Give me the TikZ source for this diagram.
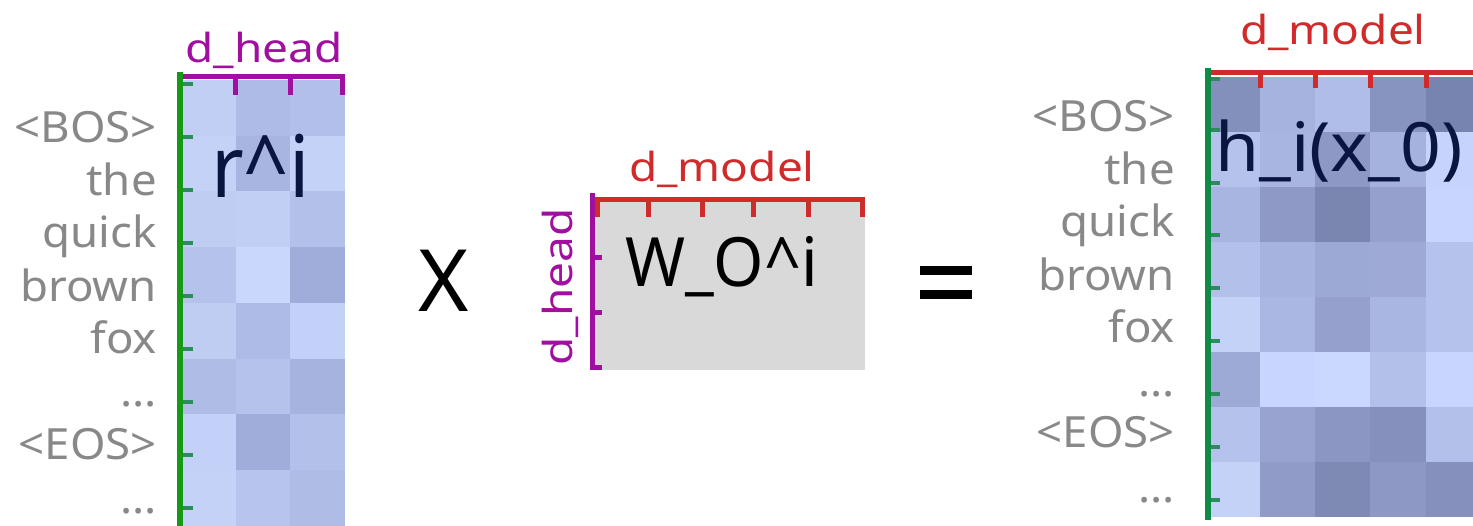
\documentclass[tikz,border=0pt]{standalone}
\usepackage{fontspec}
\setmainfont{Noto Sans}
\newfontfamily\dimfont[FakeStretch=1.15]{Noto Sans}
\newfontfamily\rowfont[FakeStretch=1.06]{Noto Sans}
\newfontfamily\hfont[FakeStretch=1.05]{Noto Sans}
\newfontfamily\wfont[FakeStretch=0.95]{Noto Sans}
\newfontfamily\rfont[FakeStretch=0.92]{Noto Sans}
\definecolor{mag}{HTML}{A00FA0}
\definecolor{redA}{HTML}{D02A2A}
\definecolor{grnA}{HTML}{169A16}
\definecolor{grnB}{HTML}{0E8C46}
\definecolor{tickG}{HTML}{2E8B5E}
\definecolor{lbl}{HTML}{888888}
\definecolor{navy}{HTML}{0B1640}
\definecolor{wgray}{HTML}{D9D9D9}
\begin{document}
\begin{tikzpicture}[x=1pt,y=-1pt,
  rowlab/.style={anchor=base east,inner sep=0pt,text=lbl,font=\rowfont\fontsize{43}{43}\selectfont},
  dimlab/.style={anchor=base,inner sep=0pt,font=\dimfont\fontsize{40}{40}\selectfont},
  bigtxt/.style={anchor=base west,inner sep=0pt,text=navy},
  axisline/.style={line width=5pt},
  gtick/.style={draw=tickG,line width=4pt},
]
\useasboundingbox (0,0) rectangle (1473,526);

% ---------- left matrix r^i ----------
\foreach \r/\a/\b/\c in {0/C2CFF5/AEBBE6/B2BFEA,1/C5D2F8/A8B5E0/C5D2F8,2/C0CDF3/C2CFF5/B3C0EA,3/B5C2EC/CAD7FD/A0ADDB,4/C0CDF3/AEBBE6/C3D0F7,5/AFBCE6/B5C2EC/A6B3DF,6/C3D0F7/A0ADDB/B3C0EA,7/C5D2F8/B7C4EE/AFBCE6}{
  \definecolor{ca}{HTML}{\a}\definecolor{cb}{HTML}{\b}\definecolor{cc}{HTML}{\c}
  \fill[ca] (183,{80+55.75*\r}) rectangle (236,{135.75+55.75*\r});
  \fill[cb] (236,{80+55.75*\r}) rectangle (290,{135.75+55.75*\r});
  \fill[cc] (290,{80+55.75*\r}) rectangle (345,{135.75+55.75*\r});
}
\foreach \y in {84,137,190,243,296,349,402,455,508}{
  \draw[gtick] (183,\y) -- (193,\y);
}
\draw[mag,axisline] (180,77) -- (345,77);
\foreach \x in {235,290,342.5}{
  \draw[mag,axisline] (\x,77) -- (\x,95);
}
\draw[grnA,line width=6pt] (180,72) -- (180,526);

\node[dimlab,text=mag] (lhead) at (264,63) {d\_head};
\node[bigtxt,font=\rfont\fontsize{86}{86}\selectfont] (rtxt) at (211,198) {r\^{}i};

\node[rowlab] (l1) at (157,143) {<BOS>};
\node[rowlab] (l2) at (157,196) {the};
\node[rowlab] (l3) at (157,248) {quick};
\node[rowlab] (l4) at (157,302) {brown};
\node[rowlab] (l5) at (157,354) {fox};
\node[rowlab] (l6) at (157,407) {...};
\node[rowlab] (l7) at (157,460) {<EOS>};
\node[rowlab] (l8) at (157,513) {...};

% ---------- times ----------
\node[anchor=base,inner sep=0pt,font=\fontsize{86}{86}\selectfont] (times) at (444,312) {X};

% ---------- middle matrix W_O^i ----------
\fill[wgray] (594,197) rectangle (865,370);
\draw[redA,axisline] (594,200) -- (865,200);
\foreach \x in {597,648,702,753,808,862.5}{
  \draw[redA,axisline] (\x,200) -- (\x,217);
}
\draw[mag,axisline] (592,193) -- (592,370);
\foreach \y in {258,313,367.5}{
  \draw[mag,axisline] (592,\y) -- (602,\y);
}
\node[dimlab,text=redA] (mmodel) at (722,182) {d\_model};
\node[dimlab,text=mag,rotate=90,anchor=base] (mhead) at (572,287) {d\_head};
\node[anchor=base west,inner sep=0pt,font=\wfont\fontsize{68}{68}\selectfont] (wtxt) at (625,287) {W\_O\^{}i};

% ---------- equals ----------
\fill (920,266) rectangle (972,275);
\fill (920,290) rectangle (972,299);
\node[inner sep=0pt,minimum width=52pt,minimum height=33pt] (eq) at (946,282.5) {};

% ---------- right matrix h_i(x_0) ----------
\foreach \r/\a/\b/\c/\d/\e in {0/8390BB/A6B3DF/B0BDE8/8894C0/7884B0,1/B5C2EC/A8B5E0/8D99C4/A5B2DE/C6D3FB,2/A8B5E0/8E9AC5/7A86B0/95A1CC/C8D5FC,3/B3C0EA/A6B3DF/9DA9D5/9EA9D6/B5C2EC,4/C5D2F8/AAB7E2/95A1CC/A9B6E1/B5C2EC,5/9EAAD6/C8D5FC/CAD7FE/B3C0EA/C8D5FC,6/B5C2EC/98A4CF/8B97C2/8591BC/B3C0EA,7/C5D2F8/909CC7/7E8AB4/8D99C4/8591BC}{
  \definecolor{ca}{HTML}{\a}\definecolor{cb}{HTML}{\b}\definecolor{cc}{HTML}{\c}\definecolor{cd}{HTML}{\d}\definecolor{ce}{HTML}{\e}
  \fill[ca] (1211,{77+55*\r}) rectangle (1260,{132+55*\r});
  \fill[cb] (1260,{77+55*\r}) rectangle (1315,{132+55*\r});
  \fill[cc] (1315,{77+55*\r}) rectangle (1370,{132+55*\r});
  \fill[cd] (1370,{77+55*\r}) rectangle (1426,{132+55*\r});
  \fill[ce] (1426,{77+55*\r}) rectangle (1473,{132+55*\r});
}
\foreach \y in {79,130,183,235,288,341,394,447,500}{
  \draw[gtick] (1211,\y) -- (1220,\y);
}
\draw[redA,axisline] (1208,73) -- (1473,73);
\foreach \x in {1260,1315,1370,1426}{
  \draw[redA,axisline] (\x,73) -- (\x,88);
}
\draw[grnB,line width=6pt] (1208,68) -- (1208,520);

\node[dimlab,text=redA] (rmodel) at (1333,45) {d\_model};
\node[bigtxt,font=\hfont\fontsize{68}{68}\selectfont] (htxt) at (1215,172) {h\_i(x\_0)};

\node[rowlab] (r1) at (1175,132) {<BOS>};
\node[rowlab] (r2) at (1175,185) {the};
\node[rowlab] (r3) at (1175,237) {quick};
\node[rowlab] (r4) at (1175,291) {brown};
\node[rowlab] (r5) at (1175,343) {fox};
\node[rowlab] (r6) at (1175,397) {...};
\node[rowlab] (r7) at (1175,448) {<EOS>};
\node[rowlab] (r8) at (1175,502) {...};
\end{tikzpicture}
\end{document}
